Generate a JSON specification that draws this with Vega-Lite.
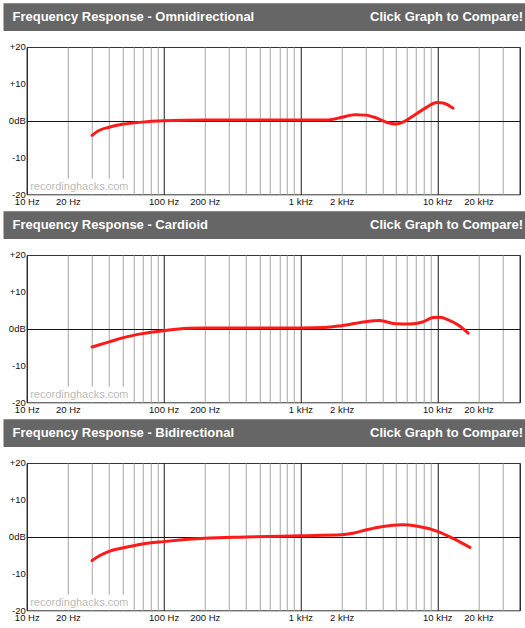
{
  "$schema": "https://vega.github.io/schema/vega-lite/v6.json",
  "padding": {"left": 3.5, "top": 3.3, "right": 0, "bottom": 0},
  "config": {
    "font": "Liberation Sans",
    "view": {"stroke": "#333333", "strokeWidth": 1},
    "axis": {"labelFont": "Liberation Sans", "labelFontSize": 9.5, "labelColor": "#111111", "ticks": false, "domain": false, "gridWidth": 1, "gridOpacity": 1}
  },
  "datasets": {
    "headers": [
      {"pattern": "Omnidirectional", "side": "left", "text": "Frequency Response - Omnidirectional"},
      {"pattern": "Omnidirectional", "side": "right", "text": "Click Graph to Compare!"},
      {"pattern": "Cardioid", "side": "left", "text": "Frequency Response - Cardioid"},
      {"pattern": "Cardioid", "side": "right", "text": "Click Graph to Compare!"},
      {"pattern": "Bidirectional", "side": "left", "text": "Frequency Response - Bidirectional"},
      {"pattern": "Bidirectional", "side": "right", "text": "Click Graph to Compare!"}
    ],
    "watermark": [{"site": "recordinghacks.com"}],
    "curves": [
      {"pattern": "Omnidirectional", "freq": 30, "db": -4.0},
      {"pattern": "Omnidirectional", "freq": 34, "db": -2.6},
      {"pattern": "Omnidirectional", "freq": 40, "db": -1.8},
      {"pattern": "Omnidirectional", "freq": 50, "db": -1.0},
      {"pattern": "Omnidirectional", "freq": 70, "db": -0.4},
      {"pattern": "Omnidirectional", "freq": 100, "db": -0.05},
      {"pattern": "Omnidirectional", "freq": 200, "db": 0.2},
      {"pattern": "Omnidirectional", "freq": 500, "db": 0.2},
      {"pattern": "Omnidirectional", "freq": 1000, "db": 0.2},
      {"pattern": "Omnidirectional", "freq": 1600, "db": 0.2},
      {"pattern": "Omnidirectional", "freq": 2000, "db": 0.9},
      {"pattern": "Omnidirectional", "freq": 2500, "db": 1.6},
      {"pattern": "Omnidirectional", "freq": 3000, "db": 1.5},
      {"pattern": "Omnidirectional", "freq": 3600, "db": 0.7},
      {"pattern": "Omnidirectional", "freq": 4300, "db": -0.5},
      {"pattern": "Omnidirectional", "freq": 5000, "db": -0.9},
      {"pattern": "Omnidirectional", "freq": 5600, "db": -0.4},
      {"pattern": "Omnidirectional", "freq": 6600, "db": 1.2},
      {"pattern": "Omnidirectional", "freq": 8000, "db": 3.2},
      {"pattern": "Omnidirectional", "freq": 10000, "db": 4.9},
      {"pattern": "Omnidirectional", "freq": 11000, "db": 4.8},
      {"pattern": "Omnidirectional", "freq": 13000, "db": 3.4},
      {"pattern": "Cardioid", "freq": 30, "db": -5.0},
      {"pattern": "Cardioid", "freq": 40, "db": -3.6},
      {"pattern": "Cardioid", "freq": 50, "db": -2.5},
      {"pattern": "Cardioid", "freq": 70, "db": -1.35},
      {"pattern": "Cardioid", "freq": 100, "db": -0.55},
      {"pattern": "Cardioid", "freq": 150, "db": 0.1},
      {"pattern": "Cardioid", "freq": 200, "db": 0.2},
      {"pattern": "Cardioid", "freq": 1000, "db": 0.2},
      {"pattern": "Cardioid", "freq": 1500, "db": 0.3},
      {"pattern": "Cardioid", "freq": 2000, "db": 0.8},
      {"pattern": "Cardioid", "freq": 3000, "db": 1.9},
      {"pattern": "Cardioid", "freq": 3800, "db": 2.2},
      {"pattern": "Cardioid", "freq": 5000, "db": 1.3},
      {"pattern": "Cardioid", "freq": 6300, "db": 1.25},
      {"pattern": "Cardioid", "freq": 7800, "db": 1.8},
      {"pattern": "Cardioid", "freq": 9300, "db": 3.0},
      {"pattern": "Cardioid", "freq": 10500, "db": 3.1},
      {"pattern": "Cardioid", "freq": 12000, "db": 2.4},
      {"pattern": "Cardioid", "freq": 14200, "db": 1.0},
      {"pattern": "Cardioid", "freq": 16800, "db": -1.2},
      {"pattern": "Bidirectional", "freq": 30, "db": -6.5},
      {"pattern": "Bidirectional", "freq": 34, "db": -5.2},
      {"pattern": "Bidirectional", "freq": 40, "db": -4.0},
      {"pattern": "Bidirectional", "freq": 50, "db": -3.1},
      {"pattern": "Bidirectional", "freq": 70, "db": -2.0},
      {"pattern": "Bidirectional", "freq": 100, "db": -1.35},
      {"pattern": "Bidirectional", "freq": 200, "db": -0.45},
      {"pattern": "Bidirectional", "freq": 400, "db": -0.1},
      {"pattern": "Bidirectional", "freq": 1000, "db": 0.25},
      {"pattern": "Bidirectional", "freq": 2000, "db": 0.5},
      {"pattern": "Bidirectional", "freq": 2400, "db": 0.9},
      {"pattern": "Bidirectional", "freq": 3000, "db": 1.8},
      {"pattern": "Bidirectional", "freq": 3900, "db": 2.7},
      {"pattern": "Bidirectional", "freq": 5600, "db": 3.2},
      {"pattern": "Bidirectional", "freq": 7000, "db": 2.9},
      {"pattern": "Bidirectional", "freq": 10000, "db": 1.45},
      {"pattern": "Bidirectional", "freq": 13000, "db": -0.45},
      {"pattern": "Bidirectional", "freq": 17300, "db": -2.9}
    ]
  },
  "columns": 1,
  "spacing": 5,
  "align": {"row": "none", "column": "all"},
  "concat": [
    {
      "columns": 1, "spacing": 9.7, "align": {"row": "none", "column": "all"}, "center": true,
      "concat": [
        {
          "width": 540, "height": 27.7,
          "view": {"fill": "#666666", "stroke": null},
          "data": {"name": "headers"},
          "transform": [{"filter": "datum.pattern === 'Omnidirectional'"}],
          "layer": [
            {"transform": [{"filter": "datum.side === 'left'"}],
             "mark": {"type": "text", "fontWeight": "bold", "fontSize": 13, "color": "white", "baseline": "middle", "align": "left"},
             "encoding": {"x": {"field": "side", "type": "nominal", "scale": {"type": "point", "domain": ["left", "right"], "range": [9, 519.5], "padding": 0}, "axis": null}, "text": {"field": "text"}}},
            {"transform": [{"filter": "datum.side === 'right'"}],
             "mark": {"type": "text", "fontWeight": "bold", "fontSize": 13, "color": "white", "baseline": "middle", "align": "right"},
             "encoding": {"x": {"field": "side", "type": "nominal", "axis": null}, "text": {"field": "text"}}}
          ]
        },
        {
          "width": 493, "height": 147.3,
          "layer": [
            {"data": {"name": "curves"}, "transform": [{"filter": "datum.pattern === 'Omnidirectional'"}],
             "mark": {"type": "line", "color": "#ff1a1a", "strokeWidth": 3, "interpolate": "monotone", "strokeCap": "round"},
             "encoding": {
               "x": {"field": "freq", "type": "quantitative", "title": null,
                     "scale": {"type": "log", "domain": [10, 40000], "nice": false},
                     "axis": {"values": [10,20,30,40,50,60,70,80,90,100,200,300,400,500,600,700,800,900,1000,2000,3000,4000,5000,6000,7000,8000,9000,10000,20000,30000,40000],
                              "tickCount": 60,
                              "labelExpr": "datum.value==10?'10 Hz':datum.value==20?'20 Hz':datum.value==100?'100 Hz':datum.value==200?'200 Hz':datum.value==1000?'1 kHz':datum.value==2000?'2 kHz':datum.value==10000?'10 kHz':datum.value==20000?'20 kHz':''",
                              "labelFlush": false, "labelOverlap": false, "labelPadding": 2,
                              "gridColor": {"condition": {"test": "datum.value==100||datum.value==1000||datum.value==10000||datum.value==10||datum.value==40000", "value": "#1a1a1a"}, "value": "#a6a6a6"}}},
               "y": {"field": "db", "type": "quantitative", "title": null,
                     "scale": {"domain": [-20, 20], "nice": false},
                     "axis": {"values": [-20,-15,-10,-5,0,5,10,15,20],
                              "tickCount": 20,
                              "labelExpr": "datum.value==20?'+20':datum.value==10?'+10':datum.value==0?'0dB':datum.value==-10?'-10':datum.value==-20?'-20':''",
                              "labelPadding": 1.5, "labelOverlap": false, "labelFlush": false,
                              "gridColor": {"condition": {"test": "datum.value==0", "value": "#111111"}, "value": {"expr": "abs(datum.value)==20?'#333333':'#a6a6a6'"}}}}
             }},
            {"data": {"name": "watermark"}, "mark": {"type": "rect", "fill": "white"},
             "encoding": {"x": {"datum": 10.25, "type": "quantitative"}, "x2": {"datum": 57}, "y": {"datum": -19.85, "type": "quantitative"}, "y2": {"datum": -15.8}}},
            {"data": {"name": "watermark"}, "mark": {"type": "text", "align": "left", "baseline": "middle", "color": "#bbbbbb", "fontSize": 11},
             "encoding": {"x": {"datum": 10.6, "type": "quantitative"}, "y": {"datum": -17.9, "type": "quantitative"}, "text": {"field": "site"}}}
          ]
        }
      ]
    },
    {
      "columns": 1, "spacing": 9.7, "align": {"row": "none", "column": "all"}, "center": true,
      "concat": [
        {
          "width": 540, "height": 27.7,
          "view": {"fill": "#666666", "stroke": null},
          "data": {"name": "headers"},
          "transform": [{"filter": "datum.pattern === 'Cardioid'"}],
          "layer": [
            {"transform": [{"filter": "datum.side === 'left'"}],
             "mark": {"type": "text", "fontWeight": "bold", "fontSize": 13, "color": "white", "baseline": "middle", "align": "left"},
             "encoding": {"x": {"field": "side", "type": "nominal", "scale": {"type": "point", "domain": ["left", "right"], "range": [9, 519.5], "padding": 0}, "axis": null}, "text": {"field": "text"}}},
            {"transform": [{"filter": "datum.side === 'right'"}],
             "mark": {"type": "text", "fontWeight": "bold", "fontSize": 13, "color": "white", "baseline": "middle", "align": "right"},
             "encoding": {"x": {"field": "side", "type": "nominal", "axis": null}, "text": {"field": "text"}}}
          ]
        },
        {
          "width": 493, "height": 147.3,
          "layer": [
            {"data": {"name": "curves"}, "transform": [{"filter": "datum.pattern === 'Cardioid'"}],
             "mark": {"type": "line", "color": "#ff1a1a", "strokeWidth": 3, "interpolate": "monotone", "strokeCap": "round"},
             "encoding": {
               "x": {"field": "freq", "type": "quantitative", "title": null,
                     "scale": {"type": "log", "domain": [10, 40000], "nice": false},
                     "axis": {"values": [10,20,30,40,50,60,70,80,90,100,200,300,400,500,600,700,800,900,1000,2000,3000,4000,5000,6000,7000,8000,9000,10000,20000,30000,40000],
                              "tickCount": 60,
                              "labelExpr": "datum.value==10?'10 Hz':datum.value==20?'20 Hz':datum.value==100?'100 Hz':datum.value==200?'200 Hz':datum.value==1000?'1 kHz':datum.value==2000?'2 kHz':datum.value==10000?'10 kHz':datum.value==20000?'20 kHz':''",
                              "labelFlush": false, "labelOverlap": false, "labelPadding": 2,
                              "gridColor": {"condition": {"test": "datum.value==100||datum.value==1000||datum.value==10000||datum.value==10||datum.value==40000", "value": "#1a1a1a"}, "value": "#a6a6a6"}}},
               "y": {"field": "db", "type": "quantitative", "title": null,
                     "scale": {"domain": [-20, 20], "nice": false},
                     "axis": {"values": [-20,-15,-10,-5,0,5,10,15,20],
                              "tickCount": 20,
                              "labelExpr": "datum.value==20?'+20':datum.value==10?'+10':datum.value==0?'0dB':datum.value==-10?'-10':datum.value==-20?'-20':''",
                              "labelPadding": 1.5, "labelOverlap": false, "labelFlush": false,
                              "gridColor": {"condition": {"test": "datum.value==0", "value": "#111111"}, "value": {"expr": "abs(datum.value)==20?'#333333':'#a6a6a6'"}}}}
             }},
            {"data": {"name": "watermark"}, "mark": {"type": "rect", "fill": "white"},
             "encoding": {"x": {"datum": 10.25, "type": "quantitative"}, "x2": {"datum": 57}, "y": {"datum": -19.85, "type": "quantitative"}, "y2": {"datum": -15.8}}},
            {"data": {"name": "watermark"}, "mark": {"type": "text", "align": "left", "baseline": "middle", "color": "#bbbbbb", "fontSize": 11},
             "encoding": {"x": {"datum": 10.6, "type": "quantitative"}, "y": {"datum": -17.9, "type": "quantitative"}, "text": {"field": "site"}}}
          ]
        }
      ]
    },
    {
      "columns": 1, "spacing": 9.7, "align": {"row": "none", "column": "all"}, "center": true,
      "concat": [
        {
          "width": 540, "height": 27.7,
          "view": {"fill": "#666666", "stroke": null},
          "data": {"name": "headers"},
          "transform": [{"filter": "datum.pattern === 'Bidirectional'"}],
          "layer": [
            {"transform": [{"filter": "datum.side === 'left'"}],
             "mark": {"type": "text", "fontWeight": "bold", "fontSize": 13, "color": "white", "baseline": "middle", "align": "left"},
             "encoding": {"x": {"field": "side", "type": "nominal", "scale": {"type": "point", "domain": ["left", "right"], "range": [9, 519.5], "padding": 0}, "axis": null}, "text": {"field": "text"}}},
            {"transform": [{"filter": "datum.side === 'right'"}],
             "mark": {"type": "text", "fontWeight": "bold", "fontSize": 13, "color": "white", "baseline": "middle", "align": "right"},
             "encoding": {"x": {"field": "side", "type": "nominal", "axis": null}, "text": {"field": "text"}}}
          ]
        },
        {
          "width": 493, "height": 147.3,
          "layer": [
            {"data": {"name": "curves"}, "transform": [{"filter": "datum.pattern === 'Bidirectional'"}],
             "mark": {"type": "line", "color": "#ff1a1a", "strokeWidth": 3, "interpolate": "monotone", "strokeCap": "round"},
             "encoding": {
               "x": {"field": "freq", "type": "quantitative", "title": null,
                     "scale": {"type": "log", "domain": [10, 40000], "nice": false},
                     "axis": {"values": [10,20,30,40,50,60,70,80,90,100,200,300,400,500,600,700,800,900,1000,2000,3000,4000,5000,6000,7000,8000,9000,10000,20000,30000,40000],
                              "tickCount": 60,
                              "labelExpr": "datum.value==10?'10 Hz':datum.value==20?'20 Hz':datum.value==100?'100 Hz':datum.value==200?'200 Hz':datum.value==1000?'1 kHz':datum.value==2000?'2 kHz':datum.value==10000?'10 kHz':datum.value==20000?'20 kHz':''",
                              "labelFlush": false, "labelOverlap": false, "labelPadding": 2,
                              "gridColor": {"condition": {"test": "datum.value==100||datum.value==1000||datum.value==10000||datum.value==10||datum.value==40000", "value": "#1a1a1a"}, "value": "#a6a6a6"}}},
               "y": {"field": "db", "type": "quantitative", "title": null,
                     "scale": {"domain": [-20, 20], "nice": false},
                     "axis": {"values": [-20,-15,-10,-5,0,5,10,15,20],
                              "tickCount": 20,
                              "labelExpr": "datum.value==20?'+20':datum.value==10?'+10':datum.value==0?'0dB':datum.value==-10?'-10':datum.value==-20?'-20':''",
                              "labelPadding": 1.5, "labelOverlap": false, "labelFlush": false,
                              "gridColor": {"condition": {"test": "datum.value==0", "value": "#111111"}, "value": {"expr": "abs(datum.value)==20?'#333333':'#a6a6a6'"}}}}
             }},
            {"data": {"name": "watermark"}, "mark": {"type": "rect", "fill": "white"},
             "encoding": {"x": {"datum": 10.25, "type": "quantitative"}, "x2": {"datum": 57}, "y": {"datum": -19.85, "type": "quantitative"}, "y2": {"datum": -15.8}}},
            {"data": {"name": "watermark"}, "mark": {"type": "text", "align": "left", "baseline": "middle", "color": "#bbbbbb", "fontSize": 11},
             "encoding": {"x": {"datum": 10.6, "type": "quantitative"}, "y": {"datum": -17.9, "type": "quantitative"}, "text": {"field": "site"}}}
          ]
        }
      ]
    }
  ]
}
